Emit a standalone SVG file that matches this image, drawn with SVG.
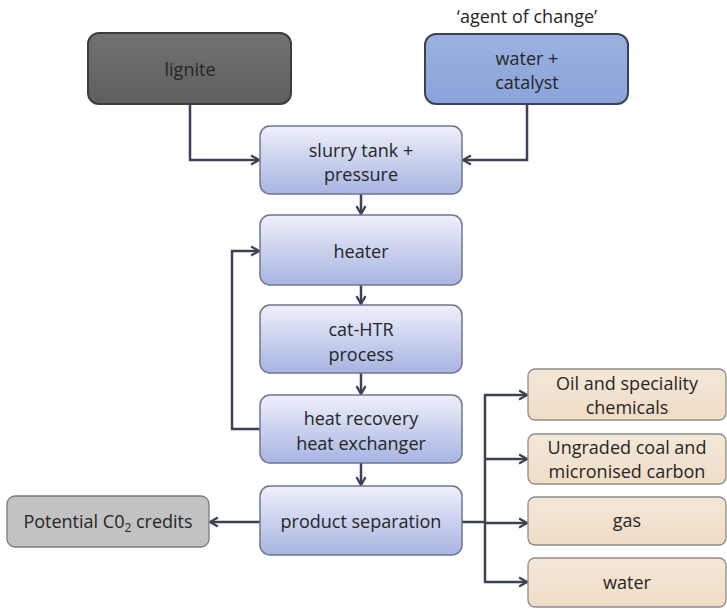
<svg xmlns="http://www.w3.org/2000/svg" width="727" height="609" viewBox="0 0 727 609">
<style>
text{font-family:"Open Sans","Liberation Sans",sans-serif;font-size:18px;fill:#262626;text-anchor:middle}
.blue{fill:url(#gBlue);stroke:#6f7590;stroke-width:1.5}
.peach{fill:url(#gPeach);stroke:#8c8c8c;stroke-width:1.3}
.con{fill:none;stroke:#3c4155;stroke-width:2.5}
</style>
<defs>
<linearGradient id="gBlue" x1="0" y1="0" x2="0" y2="1"><stop offset="0" stop-color="#eef0fa"/><stop offset="1" stop-color="#a7b4e2"/></linearGradient>
<linearGradient id="gDark" x1="0" y1="0" x2="0" y2="1"><stop offset="0" stop-color="#727272"/><stop offset="1" stop-color="#5e5e5e"/></linearGradient>
<linearGradient id="gWater" x1="0" y1="0" x2="0" y2="1"><stop offset="0" stop-color="#9cb1e1"/><stop offset="1" stop-color="#8aa3d9"/></linearGradient>
<linearGradient id="gPeach" x1="0" y1="0" x2="0" y2="1"><stop offset="0" stop-color="#f5e8d8"/><stop offset="1" stop-color="#efdcc6"/></linearGradient>
<marker id="arr" viewBox="0 0 10 10" refX="9" refY="5" markerWidth="4.5" markerHeight="4.5" orient="auto" markerUnits="strokeWidth">
<path d="M2,1 L9,5 L2,9" fill="none" stroke="#3c4155" stroke-width="2"/>
</marker>
</defs>
<text x="527" y="23">‘agent of change’</text>
<g id="connectors">
<path class="con" d="M190,104 V160 H259" marker-end="url(#arr)"/>
<path class="con" d="M527,104 V160 H463" marker-end="url(#arr)"/>
<path class="con" d="M361,194 V214" marker-end="url(#arr)"/>
<path class="con" d="M361,285 V304" marker-end="url(#arr)"/>
<path class="con" d="M361,373 V394" marker-end="url(#arr)"/>
<path class="con" d="M361,463 V485" marker-end="url(#arr)"/>
<path class="con" d="M260,429 H232 V251 H259" marker-end="url(#arr)"/>
<path class="con" d="M260,522 H210" marker-end="url(#arr)"/>
<path class="con" d="M462,522 H485"/>
<path class="con" d="M485,394 V583"/>
<path class="con" d="M484,395 H527" marker-end="url(#arr)"/>
<path class="con" d="M485,459 H527" marker-end="url(#arr)"/>
<path class="con" d="M485,523 H527" marker-end="url(#arr)"/>
<path class="con" d="M484,582 H527" marker-end="url(#arr)"/>
</g>
<g id="lignite"><rect x="88" y="33" width="203" height="71" rx="11" fill="url(#gDark)" stroke="#3d3d3d" stroke-width="2"/><text x="190" y="76" font-size="19">lignite</text></g>
<g id="water-catalyst"><rect x="425" y="34" width="203" height="70" rx="11" fill="url(#gWater)" stroke="#3c4155" stroke-width="2"/><text x="527" y="65">water +</text><text x="527" y="89">catalyst</text></g>
<g id="slurry"><rect class="blue" x="260" y="126" width="202" height="68" rx="10"/><text x="361" y="157">slurry tank +</text><text x="361" y="181">pressure</text></g>
<g id="heater"><rect class="blue" x="260" y="215" width="202" height="70" rx="10"/><text x="361" y="258">heater</text></g>
<g id="cathtr"><rect class="blue" x="260" y="305" width="202" height="68" rx="10"/><text x="361" y="336">cat-HTR</text><text x="361" y="361">process</text></g>
<g id="heatrecovery"><rect class="blue" x="260" y="395" width="202" height="68" rx="10"/><text x="361" y="425">heat recovery</text><text x="361" y="450">heat exchanger</text></g>
<g id="separation"><rect class="blue" x="260" y="486" width="202" height="69" rx="10"/><text x="361" y="528">product separation</text></g>
<g id="co2"><rect x="7" y="496" width="202" height="51" rx="8" fill="#c2c2c2" stroke="#7a7a7a" stroke-width="1.3"/><text x="108" y="528">Potential C0<tspan font-size="12" dy="4">2</tspan><tspan dy="-4"> credits</tspan></text></g>
<g id="oil"><rect class="peach" x="528" y="369" width="198" height="51" rx="7"/><text x="627" y="390">Oil and speciality</text><text x="627" y="414">chemicals</text></g>
<g id="coal"><rect class="peach" x="528" y="434" width="198" height="50" rx="7"/><text x="627" y="454">Ungraded coal and</text><text x="627" y="478">micronised carbon</text></g>
<g id="gas"><rect class="peach" x="528" y="497" width="198" height="48" rx="7"/><text x="627" y="527">gas</text></g>
<g id="water"><rect class="peach" x="528" y="558" width="198" height="49" rx="7"/><text x="627" y="589">water</text></g>
</svg>
